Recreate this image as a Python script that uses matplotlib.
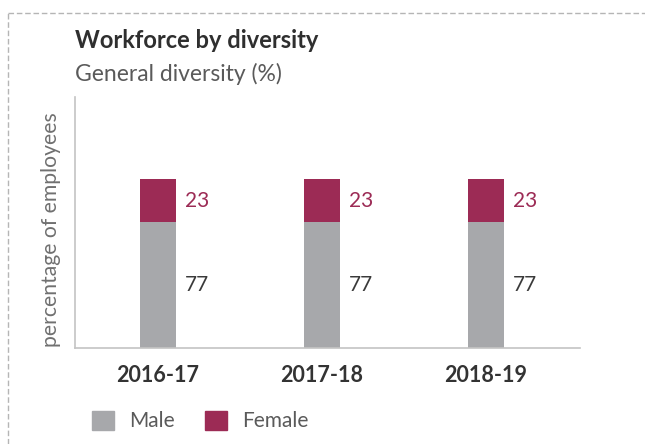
import numpy as np
import matplotlib.pyplot as plt
from matplotlib.lines import Line2D
from matplotlib.patches import Patch

plt.rcParams['font.family'] = ['Lato', 'DejaVu Sans']

years = ["2016-17", "2017-18", "2018-19"]
male = [77, 77, 77]
female = [23, 23, 23]

grey = "#a7a8ab"
maroon = "#9c2b55"
W, H = 645, 444

fig = plt.figure(figsize=(W / 100, H / 100), dpi=100)
ax = fig.add_axes([75 / W, 1 - 348 / H, (580 - 75) / W, (348 - 97) / H])

x = np.arange(len(years))
ax.bar(x, male, width=0.22, color=grey)
ax.bar(x, female, width=0.22, bottom=male, color=maroon)

ax.set_xlim(-0.506, 2.573)
ax.set_ylim(11, 143)
lo = ax.get_ylim()[0]

for xi, m, f in zip(x, male, female):
    ax.text(xi + 0.165, (lo + m) / 2, str(m), color="#3a3a3a", fontsize=15,
            va="center", ha="left")
    ax.text(xi + 0.165, m + f / 2, str(f), color=maroon, fontsize=15,
            va="center", ha="left")

ax.set_yticks([])
ax.set_xticks(x)
ax.set_xticklabels(years, fontsize=15.5, fontweight="bold", color="#333333")
ax.tick_params(axis="x", length=0, pad=12)
for s in ["top", "right"]:
    ax.spines[s].set_visible(False)
for s in ["left", "bottom"]:
    ax.spines[s].set_color("#c4c4c4")
    ax.spines[s].set_linewidth(1.2)

ax.set_ylabel("percentage of employees", fontsize=15.2, color="#707070")
ax.yaxis.set_label_coords(-0.028, 0.47)

fig.text(75 / W, 1 - 40 / H, "Workforce by diversity", fontsize=17,
         fontweight="bold", color="#2f2f2f", va="center", ha="left")
fig.text(75 / W, 1 - 74 / H, "General diversity (%)", fontsize=16.5,
         color="#5a5a5a", va="center", ha="left")

handles = [Patch(color=grey, label="Male"), Patch(color=maroon, label="Female")]
fig.legend(handles=handles, loc="center left", bbox_to_anchor=(73 / W, 1 - 421 / H),
           ncol=2, frameon=False, fontsize=15, handlelength=1.05, handleheight=1.05,
           handletextpad=0.75, columnspacing=1.45, labelcolor="#5a5a5a")

# dashed frame on top and left
fig.add_artist(Line2D([8 / W, 1], [1 - 13 / H, 1 - 13 / H], color="#b5b5b5",
                      lw=1, dashes=(4, 2)))
fig.add_artist(Line2D([8 / W, 8 / W], [0, 1 - 13 / H], color="#b5b5b5",
                      lw=1, dashes=(4, 2)))

fig.savefig("out.png", dpi=100)
